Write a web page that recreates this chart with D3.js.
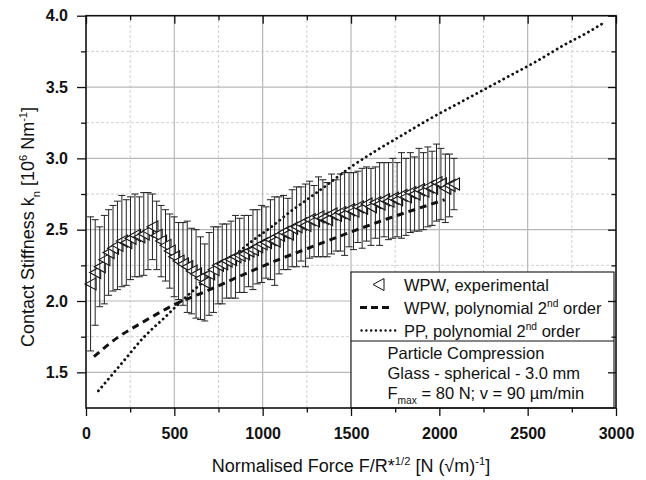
<!DOCTYPE html>
<html><head><meta charset="utf-8">
<script src="https://cdn.jsdelivr.net/npm/d3@7"></script>
<style>body{margin:0;background:#fff}</style>
</head><body><svg id="c" width="646" height="480"></svg>
<script>
// ---------- data ----------
const expX = [26,52,78,104,128,153,178,203,228,252,277,302,327,351,376,400,425,450,474,499,524,549,573,598,623,648,672,697,722,747,771,796,821,846,870,895,920,945,969,994,1019,1044,1068,1093,1118,1143,1167,1192,1217,1242,1266,1291,1316,1341,1365,1390,1415,1440,1464,1489,1514,1539,1563,1588,1613,1638,1662,1687,1712,1737,1761,1786,1811,1836,1860,1885,1910,1935,1959,1984,2009,2034,2058,2083];
const expY = [2.12,2.20,2.24,2.29,2.34,2.37,2.39,2.42,2.41,2.44,2.46,2.45,2.47,2.49,2.52,2.46,2.42,2.39,2.35,2.31,2.28,2.26,2.24,2.21,2.19,2.16,2.13,2.19,2.22,2.25,2.26,2.28,2.29,2.31,2.32,2.33,2.35,2.36,2.38,2.40,2.41,2.43,2.42,2.46,2.48,2.47,2.51,2.52,2.54,2.53,2.57,2.56,2.59,2.58,2.57,2.61,2.60,2.62,2.61,2.64,2.63,2.66,2.65,2.68,2.66,2.69,2.68,2.71,2.70,2.72,2.71,2.74,2.73,2.76,2.75,2.78,2.77,2.80,2.79,2.83,2.82,2.79,2.81,2.82];
const expErr = [0.47,0.37,0.28,0.31,0.30,0.30,0.31,0.32,0.30,0.29,0.29,0.28,0.29,0.27,0.23,0.24,0.25,0.25,0.26,0.28,0.27,0.29,0.32,0.30,0.31,0.29,0.27,0.29,0.30,0.27,0.28,0.26,0.27,0.29,0.26,0.27,0.25,0.28,0.26,0.27,0.25,0.28,0.31,0.27,0.26,0.25,0.27,0.28,0.26,0.29,0.27,0.25,0.28,0.27,0.26,0.28,0.25,0.27,0.29,0.26,0.27,0.25,0.28,0.26,0.27,0.25,0.29,0.26,0.27,0.28,0.26,0.30,0.27,0.28,0.26,0.29,0.27,0.28,0.26,0.27,0.25,0.24,0.22,0.18];

const wpwFitX = [45,180,312,425,500,683,872,1060,1258,1513,1702,1871,2030];
const wpwFitY = [1.61,1.745,1.845,1.925,1.975,2.07,2.175,2.275,2.37,2.49,2.575,2.645,2.71];

const ppFitX = [70,200,330,450,550,650,750,850,950,1050,1150,1250,1350,1500,1650,1800,1950,2100,2250,2400,2550,2700,2850,2930];
const ppFitY = [1.37,1.56,1.75,1.89,2.01,2.12,2.23,2.33,2.43,2.52,2.62,2.71,2.80,2.94,3.06,3.17,3.28,3.38,3.48,3.58,3.68,3.79,3.89,3.95];

const xMajorTicks = [0,500,1000,1500,2000,2500,3000];
const xMinorTicks = [250,750,1250,1750,2250,2750];
const yMajorTicks = [1.5,2.0,2.5,3.0,3.5,4.0];
const yMinorTicks = [1.75,2.25,2.75,3.25,3.75];

const legendEntries = [
  {type:'tri',  parts:[['WPW, experimental']]},
  {type:'dash', parts:[['WPW, polynomial 2'],['nd','sup'],[' order']]},
  {type:'dot',  parts:[['PP, polynomial 2'],['nd','sup'],[' order']]}
];
const infoLines = [
  [['Particle Compression']],
  [['Glass - spherical - 3.0 mm']],
  [['F'],['max','sub'],[' = 80 N; v = 90 µm/min']]
];

// ---------- drawing ----------
const FONT = "'Liberation Sans', Arial, Helvetica, sans-serif";
const svg = d3.select('#c').attr('font-family', FONT);
const x = d3.scaleLinear().domain([0,3000]).range([86,616]);
const y = d3.scaleLinear().domain([1.25,4.0]).range([408,15.7]);
const X0 = x(0), X1 = x(3000), Y0 = y(1.25), Y1 = y(4.0);

function rich(sel, parts, fs){
  const t = sel.append('text').attr('font-size', fs);
  let shift = 0;
  parts.forEach(p=>{
    const ts = t.append('tspan').text(p[0]);
    const target = p[1]==='sup' ? -0.38*fs : p[1]==='sub' ? 0.32*fs : 0;
    if (target - shift !== 0) ts.attr('dy', target - shift);
    shift = target;
    if (p[1]) ts.attr('font-size', fs*0.62);
  });
  return t;
}

// grid
const grid = svg.append('g');
grid.selectAll('.gxm').data(xMinorTicks).join('line')
  .attr('x1',d=>x(d)).attr('x2',d=>x(d)).attr('y1',Y0).attr('y2',Y1)
  .attr('stroke','#d0d0d0').attr('stroke-dasharray','3,2').attr('stroke-width',1);
grid.selectAll('.gym').data(yMinorTicks).join('line')
  .attr('y1',d=>y(d)).attr('y2',d=>y(d)).attr('x1',X0).attr('x2',X1)
  .attr('stroke','#d0d0d0').attr('stroke-dasharray','3,2').attr('stroke-width',1);
grid.selectAll('.gx').data(xMajorTicks.slice(1,-1)).join('line')
  .attr('x1',d=>x(d)).attr('x2',d=>x(d)).attr('y1',Y0).attr('y2',Y1)
  .attr('stroke','#b8b8b8').attr('stroke-width',1.2);
grid.selectAll('.gy').data(yMajorTicks.slice(0,-1)).join('line')
  .attr('y1',d=>y(d)).attr('y2',d=>y(d)).attr('x1',X0).attr('x2',X1)
  .attr('stroke','#b8b8b8').attr('stroke-width',1.2);

// PP fit (dotted)
const line = d3.line().x((d)=>x(d[0])).y(d=>y(d[1])).curve(d3.curveMonotoneX);
svg.append('path').datum(ppFitX.map((v,i)=>[v,ppFitY[i]]))
  .attr('d',line).attr('fill','none').attr('stroke','#111').attr('stroke-width',2.8)
  .attr('stroke-linecap','round').attr('stroke-dasharray','0.1,5');

// experimental points: triangles, then error bars over them
const pts = expX.map((v,i)=>({x:v,y:expY[i],e:expErr[i]}));
const triPath = 'M-5.5,0L5.5,-6L5.5,6Z';
const pg = svg.append('g');
pg.selectAll('path').data(pts).join('path')
  .attr('d',triPath).attr('transform',d=>`translate(${x(d.x)},${y(d.y)})`)
  .attr('fill','#fff').attr('stroke','#111').attr('stroke-width',1.1);
const eg = svg.append('g').attr('stroke','#222').attr('stroke-width',1);
eg.selectAll('.v').data(pts).join('line')
  .attr('x1',d=>x(d.x)).attr('x2',d=>x(d.x)).attr('y1',d=>y(d.y-d.e)).attr('y2',d=>y(d.y+d.e));
eg.selectAll('.t').data(pts).join('line')
  .attr('x1',d=>x(d.x)-3.5).attr('x2',d=>x(d.x)+3.5).attr('y1',d=>y(d.y+d.e)).attr('y2',d=>y(d.y+d.e));
eg.selectAll('.b').data(pts).join('line')
  .attr('x1',d=>x(d.x)-3.5).attr('x2',d=>x(d.x)+3.5).attr('y1',d=>y(d.y-d.e)).attr('y2',d=>y(d.y-d.e));

// WPW fit (dashed)
svg.append('path').datum(wpwFitX.map((v,i)=>[v,wpwFitY[i]]))
  .attr('d',line).attr('fill','none').attr('stroke','#111').attr('stroke-width',3)
  .attr('stroke-dasharray','7,5');

// legend
const lg = svg.append('g');
const LX = x(1500), LY = 272;
lg.append('rect').attr('x',LX).attr('y',LY).attr('width',X1-2-LX).attr('height',Y0-LY)
  .attr('fill','#fff').attr('stroke','#111').attr('stroke-width',1.1);
lg.append('line').attr('x1',LX).attr('x2',X1-2).attr('y1',341).attr('y2',341).attr('stroke','#111').attr('stroke-width',1.1);
const rowY = [284.5, 307.5, 330.5];
legendEntries.forEach((en,i)=>{
  const cy = rowY[i];
  if (en.type==='tri') lg.append('path').attr('d',triPath).attr('transform',`translate(378.5,${cy})`).attr('fill','#fff').attr('stroke','#111');
  if (en.type==='dash') lg.append('line').attr('x1',360).attr('x2',389).attr('y1',cy).attr('y2',cy).attr('stroke','#111').attr('stroke-width',3).attr('stroke-dasharray','7,4');
  if (en.type==='dot') lg.append('line').attr('x1',361.5).attr('x2',397).attr('y1',cy).attr('y2',cy).attr('stroke','#111').attr('stroke-width',2.4).attr('stroke-linecap','round').attr('stroke-dasharray','0.1,4.7');
  rich(lg, en.parts, 16.5).attr('x',404).attr('y',cy+6).attr('fill','#111');
});
const infoY = [358.5, 379, 398.5];
infoLines.forEach((parts,i)=>{
  rich(lg, parts, 16.5).attr('x',387.5).attr('y',infoY[i]).attr('fill','#111');
});

// axes (ticks + labels)
function styleAxis(g){ g.select('.domain').remove(); g.selectAll('line').attr('stroke','#111').attr('stroke-width',1.3); }
svg.append('g').attr('transform',`translate(0,${Y0})`)
  .call(d3.axisBottom(x).tickValues(xMajorTicks).tickSize(8).tickSizeOuter(0).tickPadding(12).tickFormat(d3.format('d')))
  .call(styleAxis)
  .selectAll('text').attr('font-size',16).attr('font-weight','bold').attr('font-family',FONT).attr('fill','#111');
svg.append('g').attr('transform',`translate(0,${Y0})`)
  .call(d3.axisBottom(x).tickValues(xMinorTicks).tickSize(4.5).tickSizeOuter(0).tickFormat(''))
  .call(styleAxis);
svg.append('g').attr('transform',`translate(${X0},0)`)
  .call(d3.axisLeft(y).tickValues(yMajorTicks).tickSize(9).tickSizeOuter(0).tickPadding(9).tickFormat(d3.format('.1f')))
  .call(styleAxis)
  .selectAll('text').attr('font-size',16).attr('font-weight','bold').attr('font-family',FONT).attr('fill','#111');
svg.append('g').attr('transform',`translate(${X0},0)`)
  .call(d3.axisLeft(y).tickValues(yMinorTicks).tickSize(5).tickSizeOuter(0).tickFormat(''))
  .call(styleAxis);
// mirrored inner ticks top & right
svg.append('g').attr('transform',`translate(0,${Y1})`)
  .call(d3.axisBottom(x).tickValues(xMajorTicks).tickSize(8).tickSizeOuter(0).tickFormat('')).call(styleAxis);
svg.append('g').attr('transform',`translate(0,${Y1})`)
  .call(d3.axisBottom(x).tickValues(xMinorTicks).tickSize(4.5).tickSizeOuter(0).tickFormat('')).call(styleAxis);
svg.append('g').attr('transform',`translate(${X1},0)`)
  .call(d3.axisLeft(y).tickValues(yMajorTicks).tickSize(8).tickSizeOuter(0).tickFormat('')).call(styleAxis);
svg.append('g').attr('transform',`translate(${X1},0)`)
  .call(d3.axisLeft(y).tickValues(yMinorTicks).tickSize(4.5).tickSizeOuter(0).tickFormat('')).call(styleAxis);

// frame
svg.append('rect').attr('x',X0).attr('y',Y1).attr('width',X1-X0).attr('height',Y0-Y1)
  .attr('fill','none').attr('stroke','#111').attr('stroke-width',1.6);

// axis titles
rich(svg, [['Normalised Force F/R*'],['1/2','sup'],[' [N (√m)'],['-1','sup'],[']']], 18)
  .attr('x',(X0+X1)/2).attr('y',472).attr('text-anchor','middle').attr('fill','#111');
rich(svg, [['Contact Stiffness k'],['n','sub'],[' [10'],['6','sup'],[' Nm'],['-1','sup'],[']']], 18)
  .attr('text-anchor','middle').attr('transform','translate(34,227) rotate(-90)').attr('fill','#111');
</script></body></html>
